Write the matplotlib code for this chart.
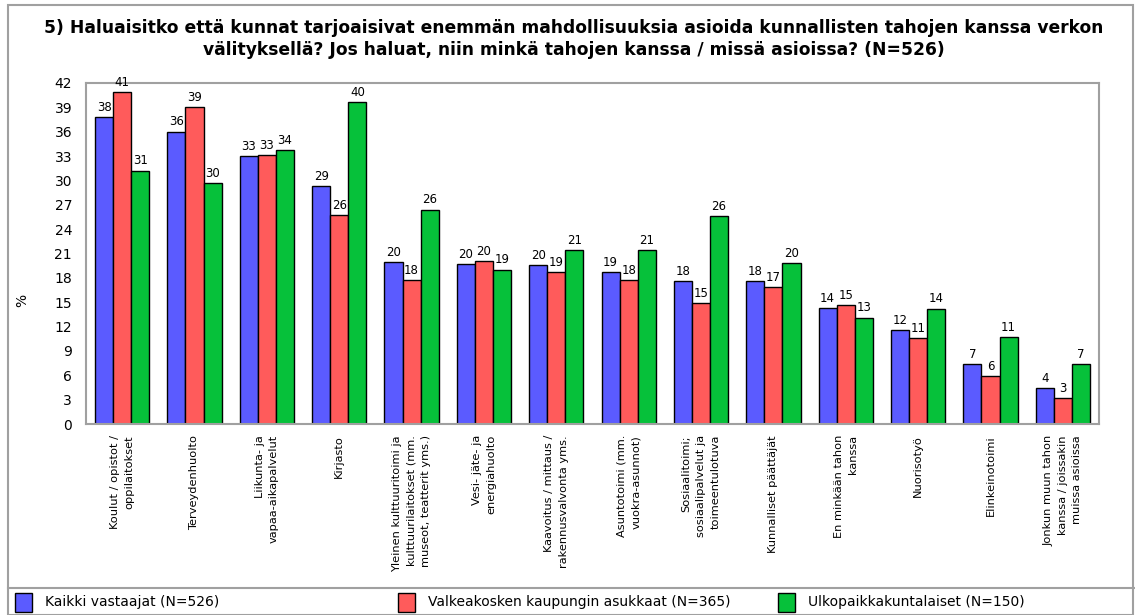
import matplotlib
matplotlib.use('Agg')
import matplotlib.pyplot as plt
import numpy as np
from matplotlib.patches import Rectangle
from matplotlib.lines import Line2D

plt.rcParams['font.family'] = ['DejaVu Sans']

categories = [
    "Koulut / opistot /\noppilaitokset",
    "Terveydenhuolto",
    "Liikunta- ja\nvapaa-aikapalvelut",
    "Kirjasto",
    "Yleinen kulttuuritoimi ja\nkulttuurilaitokset (mm.\nmuseot, teatterit yms.)",
    "Vesi- jäte- ja\nenergiahuolto",
    "Kaavoitus / mittaus /\nrakennusvalvonta yms.",
    "Asuntotoimi (mm.\nvuokra-asunnot)",
    "Sosiaalitoimi;\nsosiaalipalvelut ja\ntoimeentulotuva",
    "Kunnalliset päättäjät",
    "En minkään tahon\nkanssa",
    "Nuorisotyö",
    "Elinkeinotoimi",
    "Jonkun muun tahon\nkanssa / joissakin\nmuissa asioissa",
]
kaikki = [37.8, 36.0, 33.0, 29.3, 19.9, 19.7, 19.6, 18.7, 17.6, 17.6, 14.3, 11.6, 7.4, 4.4]
valkeakoski = [40.9, 39.0, 33.1, 25.7, 17.7, 20.1, 18.7, 17.7, 14.9, 16.9, 14.6, 10.6, 5.9, 3.2]
ulkopaikka = [31.2, 29.7, 33.7, 39.6, 26.4, 19.0, 21.4, 21.4, 25.6, 19.8, 13.1, 14.2, 10.7, 7.4]
series_names = ["Kaikki vastaajat (N=526)",
                "Valkeakosken kaupungin asukkaat (N=365)",
                "Ulkopaikkakuntalaiset (N=150)"]
title = ("5) Haluaisitko että kunnat tarjoaisivat enemmän mahdollisuuksia asioida kunnallisten tahojen kanssa verkon\n"
         "välityksellä? Jos haluat, niin minkä tahojen kanssa / missä asioissa? (N=526)")
y_ticks = list(range(0, 43, 3))

colors = ["#5b5bff", "#ff5b5b", "#06c13a"]
W, H = 1135, 615

fig = plt.figure(figsize=(W / 100, H / 100), dpi=100)
ax = fig.add_axes([86 / W, 1 - 424 / H, (1099 - 86) / W, (424 - 83) / H])

x = np.arange(len(categories))
bw = 0.25
for i, (vals, c) in enumerate(zip([kaikki, valkeakoski, ulkopaikka], colors)):
    pos = x + (i - 1) * bw
    ax.bar(pos, vals, width=bw, color=c, edgecolor="black", linewidth=1.0)
    for p, v in zip(pos, vals):
        ax.text(p, v + 0.4, f"{v:.0f}", ha="center", va="bottom", fontsize=8.5)

ax.set_xlim(-0.5, len(categories) - 0.5)
ax.set_ylim(0, 42)
ax.set_yticks(y_ticks)
ax.tick_params(axis="y", length=0, labelsize=10, pad=10)
ax.set_xticks(x)
ax.set_xticklabels(categories, rotation=90, fontsize=8.2, ha="center", va="top",
                   multialignment="right", linespacing=1.55)
ax.tick_params(axis="x", length=0, pad=8)
for s in ax.spines.values():
    s.set_color("#a0a0a0")
    s.set_linewidth(1.5)

fig.text(22 / W, 1 - 300 / H, "%", rotation=90, ha="center", va="center", fontsize=10)
fig.text(574 / W, 1 - 39 / H, title, ha="center", va="center", fontsize=12.3,
         fontweight="bold", linespacing=1.3)

# outer frame and legend separator
fig.patches.append(Rectangle((8 / W, 0), (W - 10) / W, 1 - 5 / H, transform=fig.transFigure,
                             fill=False, edgecolor="#a0a0a0", linewidth=1.5))
fig.lines.append(Line2D([8 / W, 1], [1 - 588 / H, 1 - 588 / H], transform=fig.transFigure,
                        color="#a0a0a0", linewidth=1.5))

# legend along the bottom
leg_x = [15, 398, 778]
for lx, c, name in zip(leg_x, colors, series_names):
    fig.patches.append(Rectangle((lx / W, 1 - 612 / H), 17 / W, 19 / H, transform=fig.transFigure,
                                 facecolor=c, edgecolor="black", linewidth=1.0))
    fig.text((lx + 30) / W, 1 - 602 / H, name, ha="left", va="center", fontsize=10)

fig.savefig("out.png", dpi=100)
